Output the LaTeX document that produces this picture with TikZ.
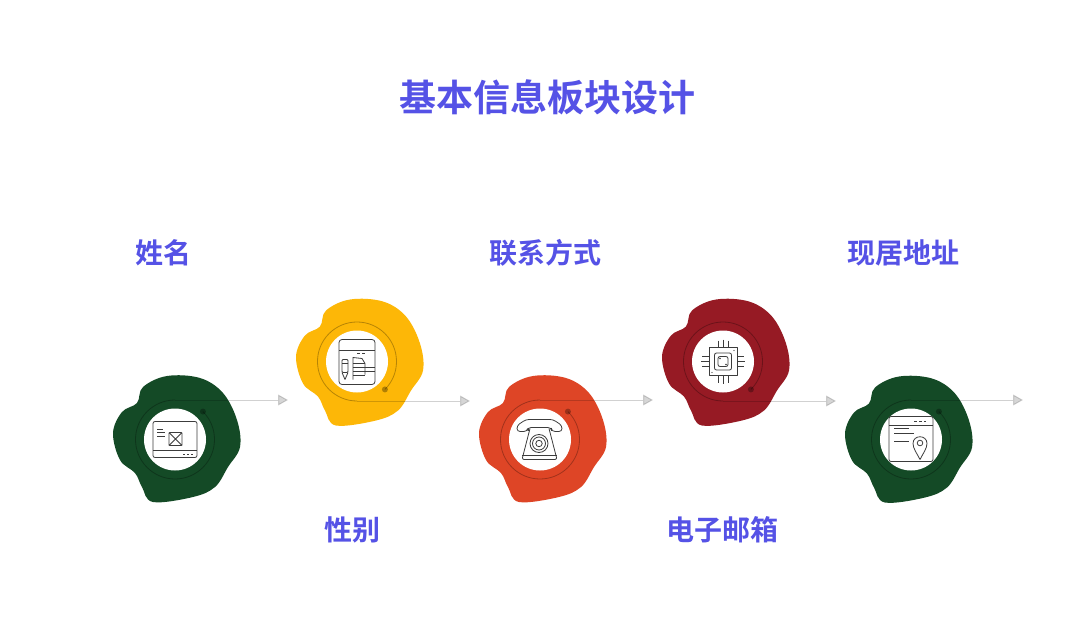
\documentclass[tikz,border=0pt]{standalone}
\usepackage{fontspec}
\setmainfont{Noto Sans CJK SC}[BoldFont={Noto Sans CJK SC Bold}]
\usetikzlibrary{arrows.meta}
\definecolor{titleblue}{HTML}{5552E6}
\definecolor{leafgreen}{HTML}{144A26}
\definecolor{sunyellow}{HTML}{FDB707}
\definecolor{brickred}{HTML}{DE4526}
\definecolor{winered}{HTML}{961A24}
\definecolor{iconink}{HTML}{3C3C3C}
\tikzset{
  blobshape/.pic={\path[pic actions] plot[smooth cycle, tension=0.6] coordinates {
    (-8,-63) (25,-61) (48,-46) (62,-19) (65,8) (53,28) (40,48) (18,58)
    (-22,63) (-33,48) (-40,34) (-55,21) (-62,-6) (-53,-27) (-38,-36) (-32,-52)};},
  mailicon/.pic={
    \draw[icon, rounded corners=2pt] (-22,-18) rectangle (22,18);
    \draw[icon] (-22,11) -- (22,11);
    \draw[icon] (-18,-10) -- (-12,-10) (-18,-7) -- (-10,-7) (-18,-3.3) -- (-10,-3.3);
    \draw[icon, rounded corners=1pt] (-6,-7) rectangle (7,6);
    \draw[icon] (-6,-7) -- (7,6) (7,-7) -- (-6,6);
    \draw[icon, dash pattern=on 1.5pt off 2.5pt] (8,15) -- (18,15);},
  sketchicon/.pic={
    \draw[icon, rounded corners=3pt] (-18,-22) rectangle (18,23);
    \draw[icon] (-18,-11) -- (18,-11);
    \draw[icon, dash pattern=on 3pt off 2pt] (0,-8.5) -- (10,-8.5);
    \draw[icon, rounded corners=1pt] (-15,-2) rectangle (-9,11);
    \draw[icon] (-15,11) -- (-12,18) -- (-9,11) (-15,2) -- (-9,2);
    \draw[icon] (-4,18) -- (-4,-4) -- (5,-3) -- (8,2) -- (8,13);
    \draw[icon] (-4,2) -- (8,2) (-4,6) -- (18,6) (-4,10) -- (18,10) (-4,14) -- (8,14);},
  phoneicon/.pic={
    \draw[icon, rounded corners=3pt] (-23,-8) -- (-23,-14) -- (-14,-20) -- (13,-20) -- (22,-14) -- (22,-8) -- (12,-8) -- (11,-12) -- (-12,-12) -- (-13,-8) -- cycle;
    \draw[icon] (-12,-12) -- (-12,-9) (11,-12) -- (11,-9);
    \draw[icon, rounded corners=2pt] (-10,-11) -- (-18,20) -- (17,20) -- (9,-11);
    \draw[icon] (-18,16) -- (17,16);
    \draw[icon] (-1,4) circle (9) (-1,4) circle (6.5) (-1,4) circle (3.2);},
  chipicon/.pic={
    \draw[icon] (-14,-14) rectangle (14,14);
    \draw[icon, rounded corners=2pt] (-8.5,-8.5) rectangle (8.5,8.5);
    \draw[icon, rounded corners=2pt] (-5,-5) rectangle (5,5);
    \draw[icon] (-5,-21) -- (-5,-14) (0,-22) -- (0,-14) (5,-21) -- (5,-14);
    \draw[icon] (-5,14) -- (-5,21) (0,14) -- (0,22) (5,14) -- (5,21);
    \draw[icon] (-21,-5) -- (-14,-5) (-22,0) -- (-14,0) (-21,5) -- (-14,5);
    \draw[icon] (14,-5) -- (21,-5) (14,0) -- (22,0) (14,5) -- (21,5);
    \fill[iconink] (-3,-3) circle (0.8) (3,3) circle (0.8) (11,-11) circle (0.7) (-11,11) circle (0.7);},
  pinicon/.pic={
    \draw[icon, rounded corners=2pt] (-22,-23) rectangle (22,22);
    \draw[icon] (-22,-14) -- (22,-14);
    \draw[icon, dash pattern=on 3pt off 2pt] (3,-18.5) -- (15,-18.5);
    \draw[icon] (-17,-11) -- (-2,-11) (-17,-6) -- (3,-6) (-17,2) -- (-2,2);
    \draw[icon, fill=white] (9,20) .. controls (6,14) and (2,9) .. (2,4) .. controls (2,-5) and (16,-5) .. (16,4) .. controls (16,9) and (12,14) .. (9,20) -- cycle;
    \draw[icon] (9,3.5) circle (2.8);}
}
\begin{document}
\begin{tikzpicture}[x=1pt, y=-1pt,
  disc/.style={circle, fill=white, inner sep=0pt, minimum size=62pt},
  ringdot/.style={circle, fill=black, fill opacity=0.3, inner sep=0pt, minimum size=6pt},
  ringline/.style={draw=black, draw opacity=0.28, line width=0.8pt},
  flowline/.style={draw=black, fill=black, opacity=0.16, line width=1pt, -{Triangle[length=10pt,width=11pt]}},
  icon/.style={draw=iconink, line width=0.8pt, line join=round},
  heading/.style={text=titleblue, font=\bfseries\fontsize{37}{37}\selectfont},
  caption/.style={text=titleblue, font=\bfseries\fontsize{28}{28}\selectfont}]
\useasboundingbox (0,0) rectangle (1080,626);
\fill[white] (0,0) rectangle (1080,626);
\node[heading] (title) at (547,97) {基本信息板块设计};
\node[caption] (namelabel) at (163.5,253) {姓名};
\node[caption] (genderlabel) at (352.5,530) {性别};
\node[caption] (contactlabel) at (545.5,253) {联系方式};
\node[caption] (maillabel) at (722,530) {电子邮箱};
\node[caption] (addresslabel) at (903.5,253) {现居地址};
% blobs
\pic[fill=leafgreen] at (175,439) {blobshape};
\pic[fill=sunyellow] at (358,362.5) {blobshape};
\pic[fill=brickred] at (541,439) {blobshape};
\pic[fill=winered] at (724,362.5) {blobshape};
\pic[fill=leafgreen] at (907,439.5) {blobshape};
% discs
\coordinate (centera) at (175,439.5);
\coordinate (centerb) at (357,361.5);
\coordinate (centerc) at (540,439.5);
\coordinate (centerd) at (723,361.5);
\coordinate (centere) at (911,439.5);
% rings
\node[ringdot] (dota) at ([shift={(-45:39.5)}]centera) {};
\node[ringdot] (dotb) at ([shift={(45:39.5)}]centerb) {};
\node[ringdot] (dotc) at ([shift={(-45:39.5)}]centerc) {};
\node[ringdot] (dotd) at ([shift={(45:39.5)}]centerd) {};
\node[ringdot] (dote) at ([shift={(-45:39.5)}]centere) {};
\draw[ringline] (dota.center) arc (-45:270:39.5);
\draw[ringline] (dotb.center) arc (45:-270:39.5);
\draw[ringline] (dotc.center) arc (-45:270:39.5);
\draw[ringline] (dotd.center) arc (45:-270:39.5);
\draw[ringline] (dote.center) arc (-45:270:39.5);
% arrows
\coordinate (starta) at ([shift={(0,-39.5)}]centera);
\coordinate (startb) at ([shift={(0,39.5)}]centerb);
\coordinate (startc) at ([shift={(0,-39.5)}]centerc);
\coordinate (startd) at ([shift={(0,39.5)}]centerd);
\coordinate (starte) at ([shift={(0,-39.5)}]centere);
\coordinate (enda) at (288,400);
\coordinate (endb) at (470,401);
\coordinate (endc) at (653,400);
\coordinate (endd) at (836,401);
\coordinate (ende) at (1023,400);
\draw[flowline] (starta) -- (enda);
\draw[flowline] (startb) -- (endb);
\draw[flowline] (startc) -- (endc);
\draw[flowline] (startd) -- (endd);
\draw[flowline] (starte) -- (ende);
\node[disc] (disca) at (centera) {};
\node[disc] (discb) at (centerb) {};
\node[disc] (discc) at (centerc) {};
\node[disc] (discd) at (centerd) {};
\node[disc] (disce) at (centere) {};
% icons
\pic at (disca) {mailicon};
\pic at (discb) {sketchicon};
\pic at (discc) {phoneicon};
\pic at (discd) {chipicon};
\pic at (disce) {pinicon};
\end{tikzpicture}
\end{document}
